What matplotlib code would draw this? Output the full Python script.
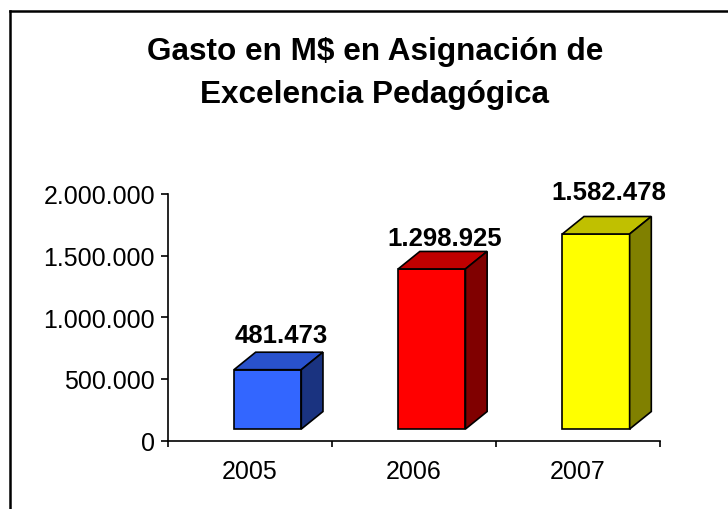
import matplotlib
matplotlib.use("Agg")
import matplotlib.pyplot as plt
from matplotlib.patches import Polygon
from matplotlib.lines import Line2D
from matplotlib.ticker import FuncFormatter, FixedLocator
import numpy as np

# data
years = ["2005", "2006", "2007"]
gasto = [481473, 1298925, 1582478]
labels = ["481.473", "1.298.925", "1.582.478"]

front_colors = ["#3366FF", "#FF0000", "#FFFF00"]
top_colors = ["#2952CC", "#C00000", "#C0C000"]
side_colors = ["#1A3380", "#800000", "#808000"]

plt.rcParams['font.family'] = ['Liberation Sans', 'DejaVu Sans']

fig = plt.figure(figsize=(7.28, 5.10), dpi=100)
ax = fig.add_axes([167.5 / 728, 1 - 441.5 / 510, (660 - 167.5) / 728, (441.5 - 195) / 510])

# fake 3d geometry (in data units)
bar_w = 0.41
shift = 0.11
depth_x = 0.132
depth_y = 142000
base = 93000
label_dy = [20, 17, 25]  # points above the front face

x = np.arange(len(years))
lefts = x + shift - bar_w / 2
rights = lefts + bar_w

ax.bar(x + shift, gasto, width=bar_w, bottom=base, color=front_colors,
       edgecolor="black", linewidth=1.2, zorder=3)

for i, v in enumerate(gasto):
    top = base + v
    L, R = lefts[i], rights[i]
    ax.add_patch(Polygon([(L, top), (R, top), (R + depth_x, top + depth_y), (L + depth_x, top + depth_y)],
                         closed=True, facecolor=top_colors[i], edgecolor="black",
                         linewidth=1.2, zorder=3, clip_on=False))
    ax.add_patch(Polygon([(R, base), (R + depth_x, base + depth_y), (R + depth_x, top + depth_y), (R, top)],
                         closed=True, facecolor=side_colors[i], edgecolor="black",
                         linewidth=1.2, zorder=3, clip_on=False))
    ax.annotate(labels[i], xy=(x[i] + shift + 0.08, top), xytext=(0, label_dy[i]),
                textcoords="offset points", ha="center", va="baseline",
                fontsize=18.5, fontweight="bold", annotation_clip=False)

ax.set_xlim(-0.5, 2.5)
ax.set_ylim(0, 2000000)
ax.set_yticks([0, 500000, 1000000, 1500000, 2000000])
ax.yaxis.set_major_formatter(FuncFormatter(lambda v, p: f"{int(v):,}".replace(",", ".")))
ax.set_xticks(x)
ax.set_xticklabels(years)
ax.xaxis.set_minor_locator(FixedLocator([-0.5, 0.5, 1.5, 2.5]))

ax.tick_params(axis="x", which="major", length=0, pad=13, labelsize=18)
ax.tick_params(axis="x", which="minor", length=4, width=1.2, direction="out")
ax.tick_params(axis="y", length=5, width=1.2, direction="out", pad=4, labelsize=18)

for s in ["top", "right"]:
    ax.spines[s].set_visible(False)
for s in ["left", "bottom"]:
    ax.spines[s].set_linewidth(1.2)

# title
fig.text(375 / 728, 1 - 73.5 / 510, "Gasto en M$ en Asignación de\nExcelencia Pedagógica",
         ha="center", va="center", fontsize=22.7, fontweight="bold", linespacing=1.55)

# chart frame (open at right and bottom)
fig.add_artist(Line2D([9.5 / 728, 9.5 / 728], [0, 1 - 11.7 / 510], color="black", linewidth=1.8,
                      transform=fig.transFigure))
fig.add_artist(Line2D([9.5 / 728, 1], [1 - 11.7 / 510, 1 - 11.7 / 510], color="black", linewidth=1.8,
                      transform=fig.transFigure))

fig.savefig("out.png", dpi=100)
